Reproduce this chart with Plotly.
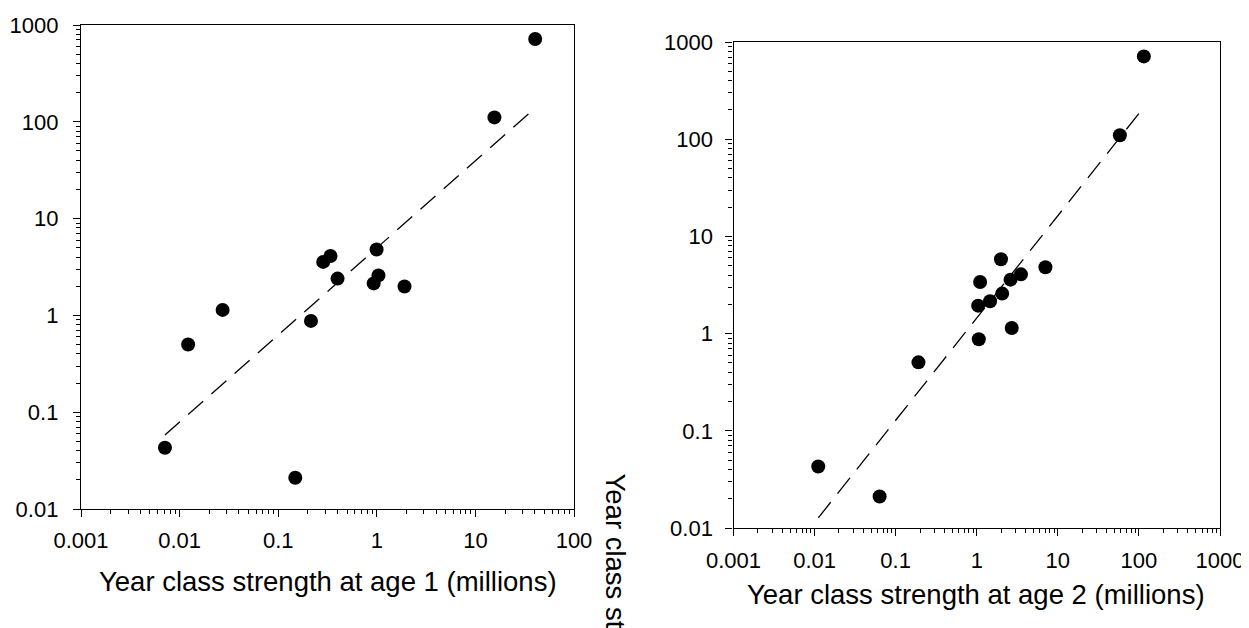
import plotly.graph_objects as go

# ---- data ----
age1_x = [0.0071, 0.0122, 0.0273, 0.149, 0.215, 0.286, 0.339, 0.40, 0.995, 0.93, 1.04, 1.91, 15.6, 40.4]
age1_y = [0.043, 0.50, 1.14, 0.021, 0.877, 3.57, 4.11, 2.40, 4.80, 2.14, 2.59, 1.99, 111, 718]
fit1_x = [0.0071, 40.4]
fit1_y = [0.058, 139]

age2_x = [0.0111, 0.0634, 0.191, 1.06, 1.04, 1.10, 1.46, 1.99, 2.06, 2.61, 2.70, 3.51, 7.03, 58.2, 115]
age2_y = [0.043, 0.0211, 0.506, 0.875, 1.94, 3.40, 2.15, 5.83, 2.58, 3.59, 1.14, 4.07, 4.82, 110, 711]
fit2_x = [0.0111, 115]
fit2_y = [0.0127, 213]

x1_ticks = [0.001, 0.01, 0.1, 1, 10, 100]
x1_labels = ["0.001", "0.01", "0.1", "1", "10", "100"]
x2_ticks = [0.001, 0.01, 0.1, 1, 10, 100, 1000]
x2_labels = ["0.001", "0.01", "0.1", "1", "10", "100", "1000"]
y_ticks = [0.01, 0.1, 1, 10, 100, 1000]
y_labels = ["0.01", "0.1", "1", "10", "100", "1000"]

title1 = "Year class strength at age 1 (millions)"
title2 = "Year class strength at age 2 (millions)"
side_title = "Year class st"

W, H = 1249, 628
FONT = "Liberation Sans, Arial, sans-serif"

fig = go.Figure()
fig.add_trace(go.Scatter(x=fit1_x, y=fit1_y, mode="lines",
                         line=dict(color="black", width=1.3, dash="20px,11px"),
                         xaxis="x", yaxis="y", showlegend=False))
fig.add_trace(go.Scatter(x=age1_x, y=age1_y, mode="markers",
                         marker=dict(color="black", size=14),
                         xaxis="x", yaxis="y", showlegend=False))
fig.add_trace(go.Scatter(x=fit2_x, y=fit2_y, mode="lines",
                         line=dict(color="black", width=1.3, dash="20px,11px"),
                         xaxis="x2", yaxis="y2", showlegend=False))
fig.add_trace(go.Scatter(x=age2_x, y=age2_y, mode="markers",
                         marker=dict(color="black", size=14),
                         xaxis="x2", yaxis="y2", showlegend=False))

def ax(domain, rng, tv, tt, anchor, standoff):
    return dict(
        type="log", domain=domain, range=rng, anchor=anchor, automargin=False,
        tickvals=tv, ticktext=tt, ticks="outside", ticklen=7, tickwidth=1.2,
        tickcolor="black", ticklabelstandoff=standoff,
        minor=dict(ticks="outside", ticklen=4, tickwidth=1, tickcolor="black",
                   dtick="D1", showgrid=False),
        showline=True, linecolor="black", linewidth=1.3, mirror=True,
        showgrid=False, zeroline=False,
        tickfont=dict(family=FONT, size=22, color="black"),
    )

fig.update_layout(
    template="none",
    width=W, height=H,
    margin=dict(l=0, r=0, t=0, b=0),
    paper_bgcolor="white", plot_bgcolor="white",
    font=dict(family=FONT, color="black"),
    xaxis=ax([73 / W, 566 / W], [-3, 2], x1_ticks, x1_labels, "y", 4),
    yaxis=ax([1 - 501 / H, 1 - 17 / H], [-2, 3], y_ticks, y_labels, "x", 10),
    xaxis2=ax([725.5 / W, 1212 / W], [-3, 3], x2_ticks, x2_labels, "y2", 5),
    yaxis2=ax([1 - 520 / H, 1 - 34 / H], [-2, 3], y_ticks, y_labels, "x2", 8),
    annotations=[
        dict(text=title1, x=320 / W, y=1 - 573 / H, xref="paper", yref="paper",
             xanchor="center", yanchor="middle", showarrow=False,
             font=dict(family=FONT, size=27.5, color="black")),
        dict(text=title2, x=968 / W, y=1 - 586 / H, xref="paper", yref="paper",
             xanchor="center", yanchor="middle", showarrow=False,
             font=dict(family=FONT, size=27.5, color="black")),
        dict(text=side_title, x=607 / W, y=1 - 463 / H, xref="paper", yref="paper",
             xanchor="center", yanchor="top", showarrow=False, textangle=90,
             font=dict(family=FONT, size=27.5, color="black")),
    ],
)

fig.write_html("out.html")
